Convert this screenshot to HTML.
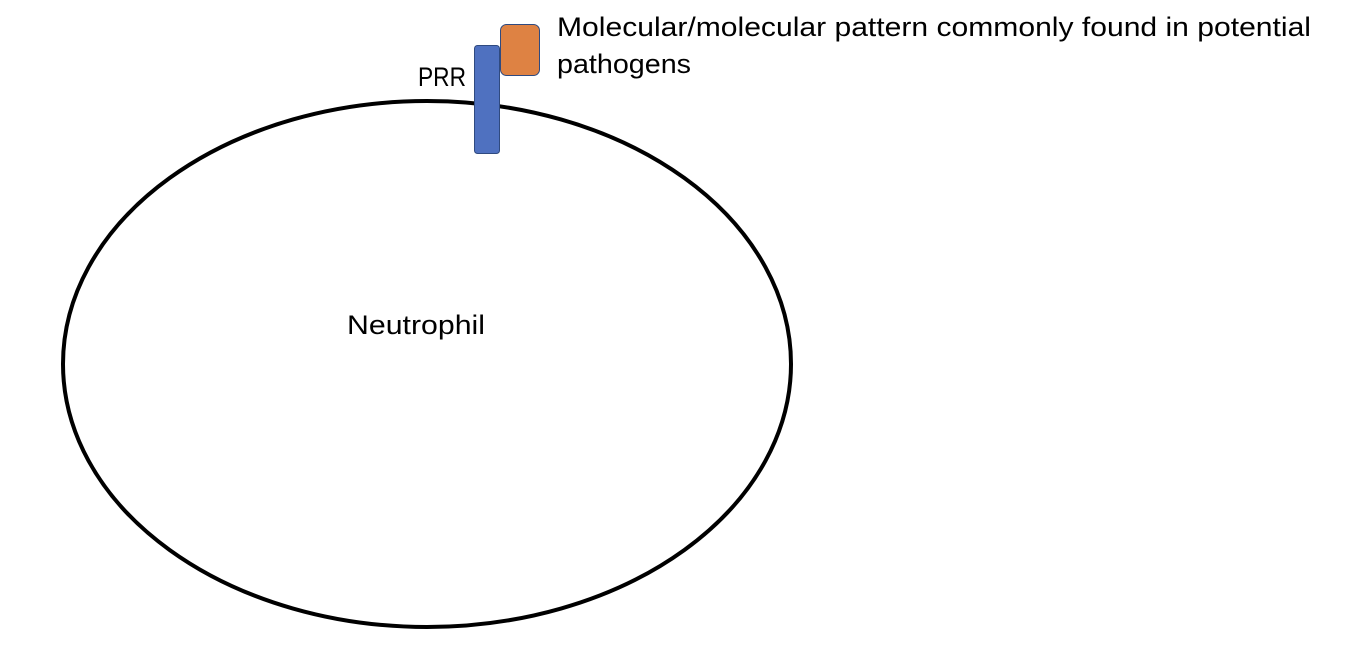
<!DOCTYPE html>
<html><head><style>body{margin:0;background:#fff}svg{display:block}</style></head>
<body>
<svg width="1360" height="648" xmlns="http://www.w3.org/2000/svg" font-family="Liberation Sans, sans-serif" font-size="27" fill="#000">
<rect width="1360" height="648" fill="#fff"/>
<ellipse cx="427" cy="364" rx="364" ry="263" fill="none" stroke="#000" stroke-width="4"/>
<rect x="474.5" y="45.5" width="25" height="108" rx="3" fill="#4f71c0" stroke="#2f4a80" stroke-width="1"/>
<rect x="500.5" y="24.5" width="39" height="51" rx="6" fill="#de8243" stroke="#2f4a80" stroke-width="1"/>
<text x="418" y="86" textLength="48" lengthAdjust="spacingAndGlyphs">PRR</text>
<text x="557" y="36" textLength="754" lengthAdjust="spacingAndGlyphs">Molecular/molecular pattern commonly found in potential</text>
<text x="557" y="73" textLength="134" lengthAdjust="spacingAndGlyphs">pathogens</text>
<text x="347" y="334" textLength="138" lengthAdjust="spacingAndGlyphs">Neutrophil</text>
</svg>
</body></html>
